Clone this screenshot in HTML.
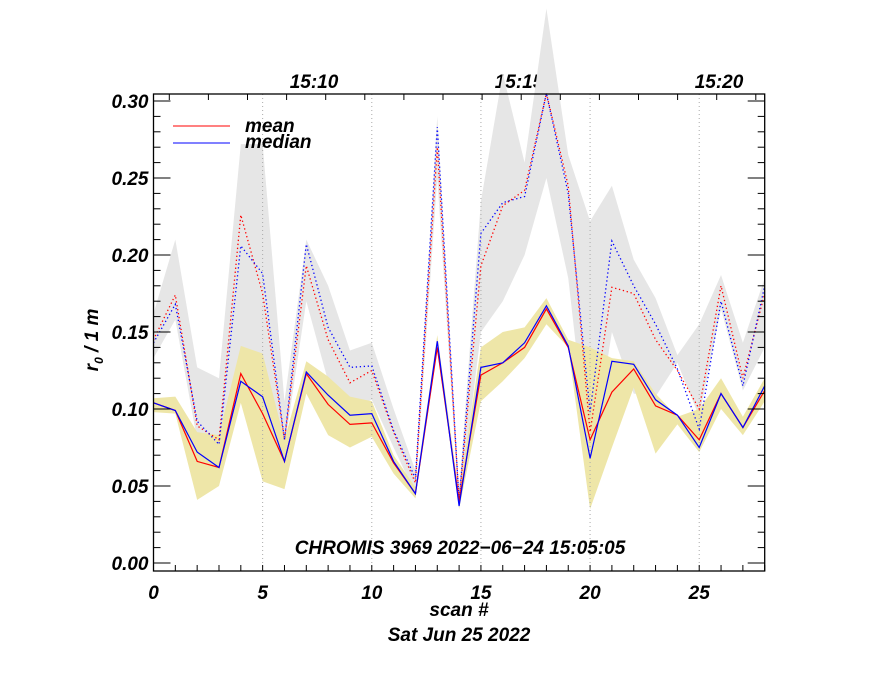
<!DOCTYPE html>
<html><head><meta charset="utf-8"><style>
html,body{margin:0;padding:0;background:#fff;}
svg text{font-family:"Liberation Sans",sans-serif;font-weight:bold;font-style:italic;}
</style></head><body>
<svg id="chart" width="880" height="680" viewBox="0 0 880 680" xmlns="http://www.w3.org/2000/svg">
<g id="top-labels" font-size="19">
<text x="314" y="88" text-anchor="middle">15:10</text>
<text x="519" y="88" text-anchor="middle">15:15</text>
<text x="719" y="88" text-anchor="middle">15:20</text>
</g>
<g id="bands"></g>
<g id="grid"></g>
<g id="lines"></g>
<g id="axes"></g>
<g>
<line x1="173" y1="126" x2="230" y2="126" stroke="#f00" stroke-width="1"/>
<text x="245" y="132" font-size="19">mean</text>
<line x1="173" y1="143" x2="230" y2="143" stroke="#00f" stroke-width="1"/>
<text x="245" y="148" font-size="19">median</text>
</g>
<text x="460" y="554" font-size="19" text-anchor="middle">CHROMIS 3969 2022−06−24 15:05:05</text>
<text x="459" y="616" font-size="19" text-anchor="middle">scan #</text>
<text x="459" y="641" font-size="19" text-anchor="middle">Sat Jun 25 2022</text>
<text transform="translate(98,340) rotate(-90)" font-size="19" text-anchor="middle">r<tspan font-size="12" dy="5">0</tspan><tspan dy="-5"> / 1 m</tspan></text>
</svg>
<script>
const scans = [0,1,2,3,4,5,6,7,8,9,10,11,12,13,14,15,16,17,18,19,20,21,22,23,24,25,26,27,28];
const meanSolid = [0.104,0.099,0.066,0.062,0.123,0.097,0.066,0.123,0.103,0.090,0.091,0.065,0.045,0.140,0.040,0.122,0.130,0.140,0.165,0.140,0.080,0.111,0.126,0.102,0.096,0.080,0.110,0.088,0.112];
const medianSolid = [0.104,0.099,0.072,0.062,0.118,0.108,0.066,0.124,0.109,0.096,0.097,0.066,0.045,0.144,0.037,0.127,0.130,0.143,0.167,0.141,0.068,0.131,0.129,0.106,0.096,0.075,0.110,0.088,0.115];
const yellowUpper = [0.107,0.108,0.085,0.083,0.141,0.136,0.080,0.131,0.121,0.108,0.105,0.070,0.049,0.148,0.045,0.140,0.150,0.153,0.172,0.145,0.140,0.133,0.131,0.110,0.095,0.100,0.120,0.095,0.120];
const yellowLower = [0.098,0.097,0.041,0.050,0.104,0.053,0.048,0.110,0.083,0.075,0.082,0.058,0.042,0.138,0.035,0.105,0.118,0.133,0.155,0.140,0.035,0.075,0.114,0.071,0.090,0.072,0.100,0.083,0.105];
const meanDotted = [0.145,0.174,0.089,0.080,0.226,0.175,0.080,0.193,0.145,0.117,0.125,0.085,0.052,0.270,0.040,0.193,0.232,0.242,0.305,0.245,0.085,0.179,0.175,0.145,0.125,0.100,0.180,0.120,0.175];
const medianDotted = [0.143,0.168,0.092,0.077,0.206,0.188,0.080,0.207,0.153,0.127,0.128,0.086,0.055,0.283,0.040,0.214,0.234,0.238,0.305,0.240,0.098,0.209,0.180,0.155,0.126,0.087,0.170,0.115,0.180];
const grayUpper = [0.162,0.210,0.127,0.120,0.272,0.272,0.105,0.210,0.180,0.138,0.143,0.100,0.060,0.290,0.047,0.235,0.318,0.260,0.360,0.265,0.222,0.245,0.197,0.172,0.135,0.155,0.187,0.143,0.185];
const grayLower = [0.133,0.158,0.080,0.068,0.135,0.135,0.075,0.170,0.118,0.100,0.106,0.075,0.045,0.250,0.035,0.150,0.170,0.200,0.250,0.185,0.060,0.150,0.110,0.108,0.130,0.095,0.165,0.112,0.140];
const xTickLabels = [0,5,10,15,20,25];
const yTickLabels = [0.00,0.05,0.10,0.15,0.20,0.25,0.30];

const NS="http://www.w3.org/2000/svg";
const L=153.5,R=764.7,T=94,B=571;
function xs(v){return L+(v-0)/(28-0)*(R-L);}
function ys(v){return 563-v*1540;}
function mk(tag,attrs,parent){const e=document.createElementNS(NS,tag);for(const k in attrs)e.setAttribute(k,attrs[k]);parent.appendChild(e);return e;}
const bands=document.getElementById('bands'),grid=document.getElementById('grid'),lines=document.getElementById('lines'),axes=document.getElementById('axes');

function band(up,lo,fill,name){
  let pts=scans.map((s,i)=>xs(s)+','+ys(up[i]));
  for(let i=scans.length-1;i>=0;i--)pts.push(xs(scans[i])+','+ys(lo[i]));
  const p=mk('polygon',{points:pts.join(' '),fill:fill},bands);
  
  
}
band(grayUpper,grayLower,'#e6e6e6','gray-band');
band(yellowUpper,yellowLower,'#eee6a8','yellow-band');

xTickLabels.slice(1).forEach(v=>{
  const g=mk('line',{x1:xs(v),x2:xs(v),y1:T,y2:B,stroke:'#aaa','stroke-width':1,'stroke-dasharray':'1,3'},grid);
  
  
});

function line(vals,color,dotted,name){
  const d=scans.map((s,i)=>(i?'L':'M')+xs(s).toFixed(1)+','+ys(vals[i]).toFixed(1)).join(' ');
  const attrs={d:d,fill:'none',stroke:color,'stroke-width':dotted?1.3:1.2};
  if(dotted)attrs['stroke-dasharray']='1.3,2.7';
  const p=mk('path',attrs,lines);
  
  
}
line(meanDotted,'#f00',true,'mean-dotted-line');
line(medianDotted,'#00f',true,'median-dotted-line');
line(meanSolid,'#f00',false,'mean-line');
line(medianSolid,'#00f',false,'median-line');

const fr=mk('rect',{x:L,y:T,width:R-L,height:B-T,fill:'none',stroke:'#000','stroke-width':1.3},axes);



for(let k=0;k<=30;k++){
  const v=k/100,y=ys(v),len=(k%5===0)?17:7;
  mk('line',{x1:L,x2:L+len,y1:y,y2:y,stroke:'#000','stroke-width':1},axes);
  mk('line',{x1:R,x2:R-len,y1:y,y2:y,stroke:'#000','stroke-width':1},axes);
}
yTickLabels.forEach(v=>{
  const t=mk('text',{x:L-5,y:ys(v)+7,'font-size':19,'text-anchor':'end'},axes);
  t.textContent=v.toFixed(2);
  
  
});
for(let s=0;s<=28;s++){
  mk('line',{x1:xs(s),x2:xs(s),y1:B,y2:B-6,stroke:'#000','stroke-width':1},axes);
}
xTickLabels.forEach(v=>{
  const t=mk('text',{x:xs(v),y:599,'font-size':19,'text-anchor':'middle'},axes);
  t.textContent=v;
  
  
});
for(let k=0;k<16;k++){
  const x=169.3+39.1*k;
  if(x<R) mk('line',{x1:x,x2:x,y1:T,y2:T+6,stroke:'#000','stroke-width':1},axes);
}
</script>
</body></html>
